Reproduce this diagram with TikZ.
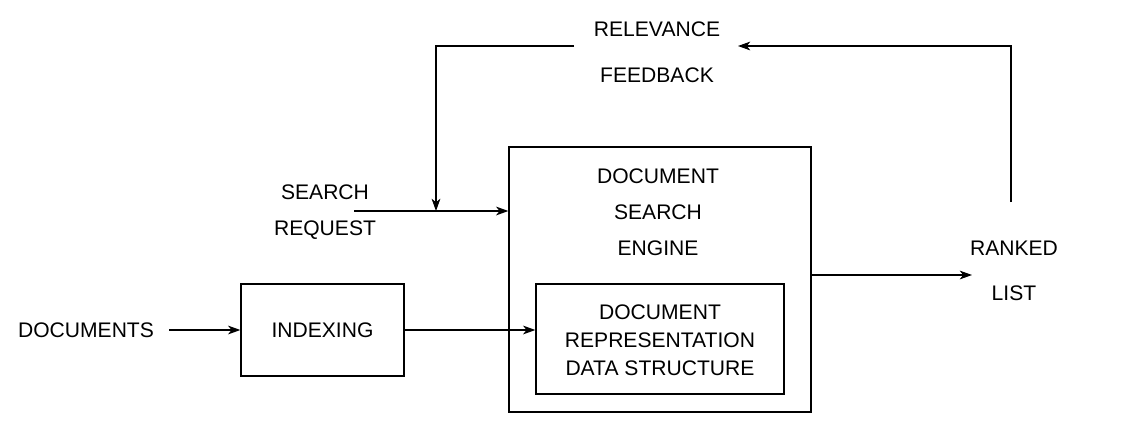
\documentclass[tikz,border=0pt]{standalone}
\usepackage{fontspec}
\setmainfont{Liberation Sans}
\usetikzlibrary{arrows.meta}

\begin{document}
\begin{tikzpicture}[x=0.02cm,y=-0.02cm,semithick,>={Stealth[length=7pt,width=5pt,inset=2pt]},
    font=\fontsize{12}{14}\selectfont]
    \tikzstyle{box}=[draw, line width=0.8pt, rectangle, inner sep=0pt]
    \tikzstyle{txt}=[align=center, inner sep=0pt]

    \useasboundingbox (0,0) rectangle (1137,440);

    % boxes
    \node[box, minimum width=6.04cm, minimum height=5.3cm] (engine) at (660,279.5) {};
    \node[box, minimum width=4.96cm, minimum height=2.2cm] (repr) at (660,339) {};
    \node[box, minimum width=3.26cm, minimum height=1.84cm] (index) at (322.5,330) {INDEXING};

    % texts
    \node[txt] (engtxt) at (658,212) {DOCUMENT\\[6.5pt] SEARCH\\[6.5pt] ENGINE};
    \node[txt] at (660,340) {DOCUMENT\\[1.8pt] REPRESENTATION\\[1.8pt] DATA STRUCTURE};
    \node[txt] (docs) at (86,330) {DOCUMENTS};
    \node[txt] (search) at (325,212) {SEARCH\\[6.5pt] REQUEST};
    \node[txt] (ranked) at (1014,271) {RANKED\\[11.5pt] LIST};
    \node[txt] (relfb) at (657,52) {RELEVANCE\\[12pt] FEEDBACK};

    % connector ends
    \coordinate (sq) at (354,211);
    \coordinate (join) at (436,211);
    \coordinate (fbL) at (436,46);
    \coordinate (fbout) at (574,46);
    \coordinate (fbin) at (738,46);
    \coordinate (fbR) at (1011,46);
    \coordinate (rtop) at (1011,202);
    \coordinate (rin) at (972,275);
    \coordinate (ds) at (169,330);

    \draw[->] (ds) -- (ds -| index.west);
    \draw[->] (index.east) -- (index.east -| repr.west);
    \draw[->] (sq) -- (sq -| engine.west);
    \draw[->] (engine.east |- rin) -- (rin);
    \draw[->] (rtop) -- (fbR) -- (fbin);
    \draw[->] (fbout) -- (fbL) -- (join);
\end{tikzpicture}
\end{document}
